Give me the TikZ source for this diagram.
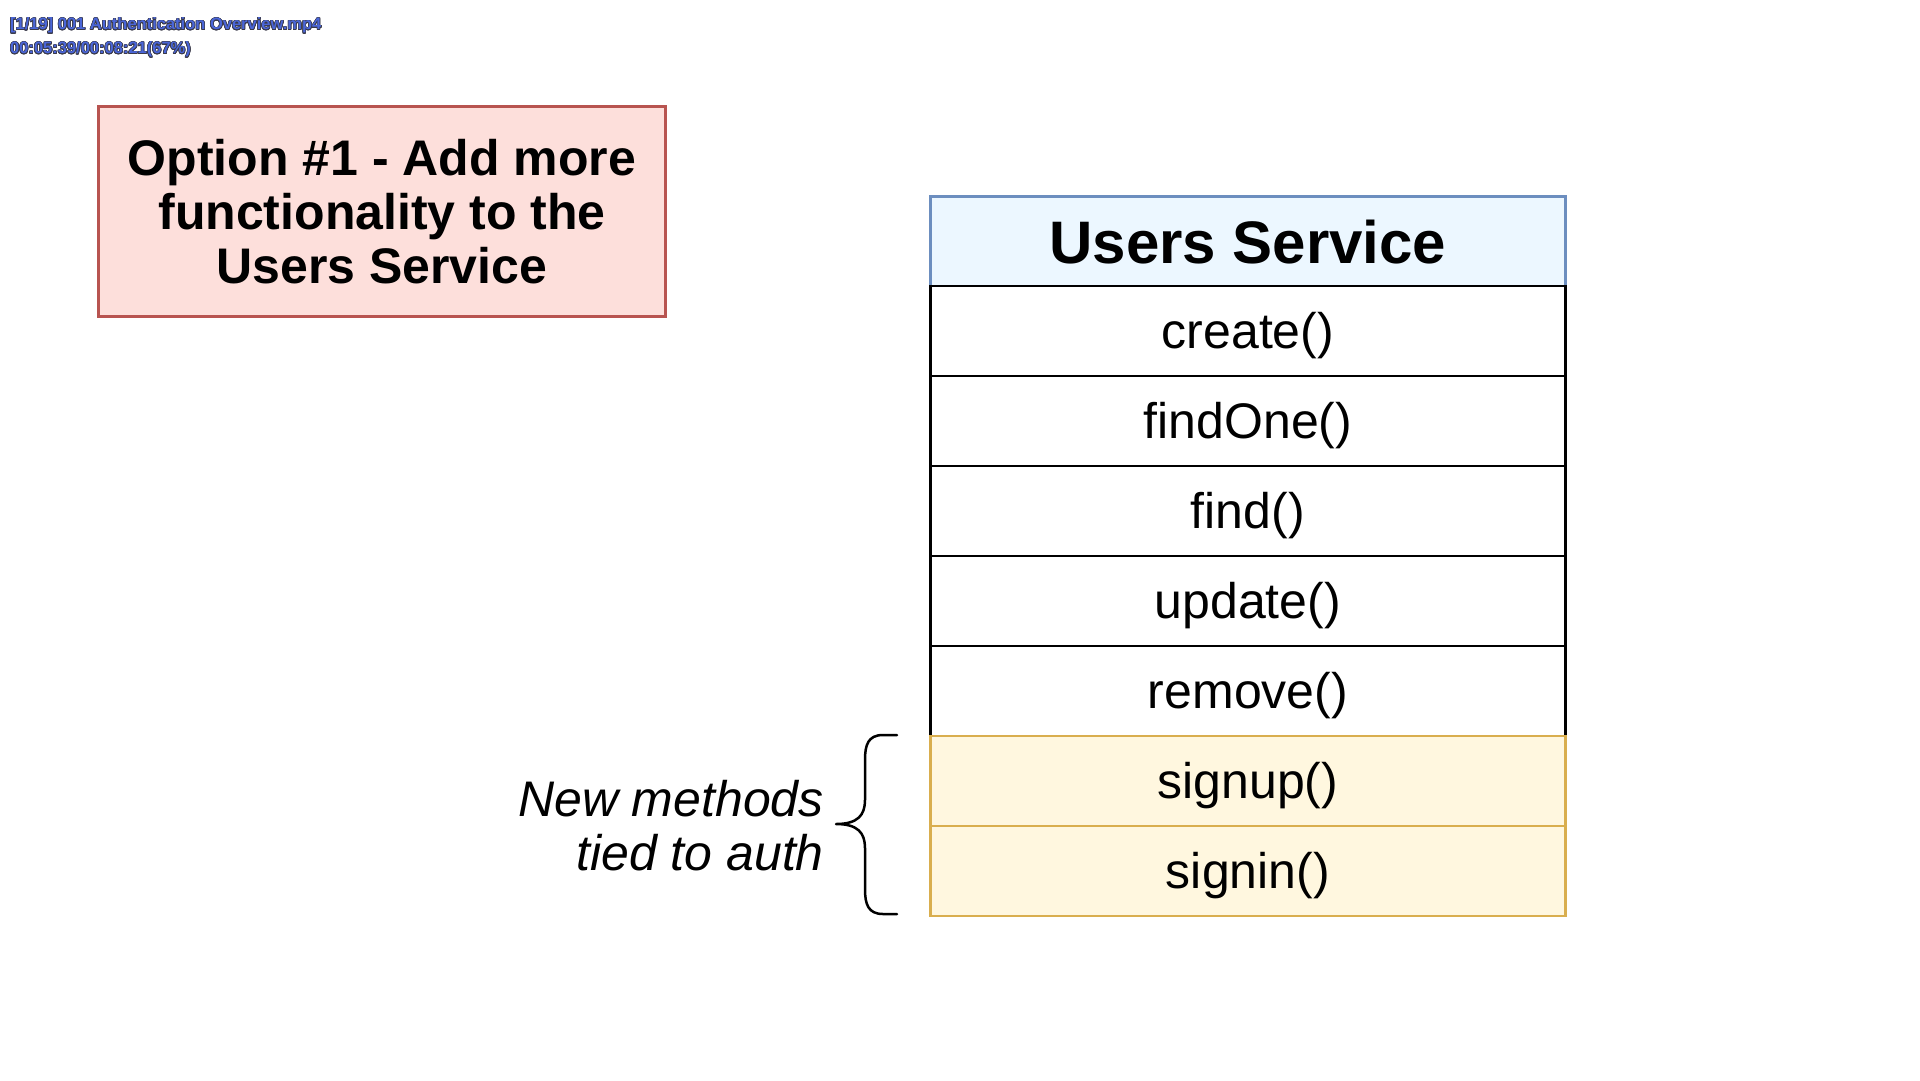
\documentclass[tikz,border=0pt]{standalone}
\usepackage{fontspec}
\usepackage[copies]{contour}
\setmainfont{Liberation Sans}
\definecolor{titlefill}{HTML}{FDDFDB}
\definecolor{titledraw}{HTML}{B85450}
\definecolor{headfill}{HTML}{ECF7FF}
\definecolor{headdraw}{HTML}{6C8EBF}
\definecolor{authfill}{HTML}{FFF7DF}
\definecolor{authdraw}{HTML}{D9AE4E}
\definecolor{overlayblue}{HTML}{4A66D8}
\definecolor{overlayedge}{HTML}{3A3A4A}
\contourlength{0.6pt}
\tikzset{
  rowbox/.style={draw=black, line width=2.8pt, fill=white, minimum width=635pt, minimum height=90pt, inner sep=0pt, text height=46pt, text depth=10pt, anchor=north west, font=\fontsize{50}{54}\selectfont},
  headbox/.style={rowbox, draw=headdraw, fill=headfill, text height=44pt, text depth=0pt, font=\bfseries\fontsize{60}{64}\selectfont},
  authbox/.style={rowbox, draw=authdraw, fill=authfill},
  titlebox/.style={draw=titledraw, line width=3pt, fill=titlefill, minimum width=567pt, minimum height=210pt, inner sep=0pt, anchor=north west, align=center, font=\bfseries\fontsize{50}{54}\selectfont},
  overlay/.style={anchor=west, inner sep=0pt, text=overlayblue, font=\bfseries\fontsize{16.5}{24}\selectfont, align=left},
  bracepath/.style={draw=black, line width=2.5pt, line cap=round, line join=round},
}
\begin{document}
\begin{tikzpicture}[x=1pt,y=-1pt]
\useasboundingbox[fill=white] (0,0) rectangle (1920,1080);
% video overlay text
\node[overlay] (ovl) at (10,38) {\contour{overlayedge}{[1/19] 001 Authentication Overview.mp4}\\\contour{overlayedge}{00:05:39/00:08:21(67\%)}};
% title box
\node[titlebox] (title) at (97,105) {Option \#1 - Add more\\functionality to the\\Users Service};
% table
\node[headbox] (head) at (929,195) {Users Service};
\node[rowbox] (create) at (929,284.5) {create()};
\node[rowbox] (findone) at (929,374.5) {findOne()};
\node[rowbox] (find) at (929,464.5) {find()};
\node[rowbox] (update) at (929,554.5) {update()};
\node[rowbox] (remove) at (929,644.5) {remove()};
\node[authbox] (signup) at (929,734.5) {signup()};
\node[authbox] (signin) at (929,824.5) {signin()};
% brace
\coordinate (btop) at (897,735);
\coordinate (bbot) at (897,914);
\coordinate (btip) at (836,824);
\draw[bracepath] (btop) -- (883,735) .. controls (868,735) and (865,745) .. (865,760) -- (865,800) .. controls (865,815) and (858,824) .. (btip) .. controls (858,824) and (865,833) .. (865,848) -- (865,889) .. controls (865,904) and (868,914) .. (883,914) -- (bbot);
% label
\node[anchor=east, align=right, inner sep=0pt, font=\itshape\fontsize{50}{54}\selectfont] (newm) at (824,826) {New methods\\tied to auth};
\end{tikzpicture}
\end{document}
